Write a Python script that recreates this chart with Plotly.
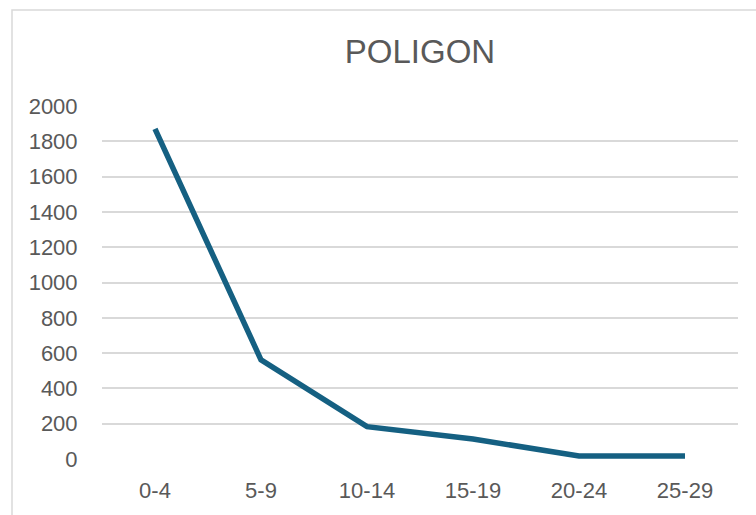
import plotly.graph_objects as go

categories = ["0-4", "5-9", "10-14", "15-19", "20-24", "25-29"]
values = [1870, 562, 183, 113, 17, 17]
y_ticks = list(range(0, 2001, 200))

W, H = 756, 515
L, R, T, B = 102, 18, 106, 56
pw, ph = W - L - R, H - T - B

fig = go.Figure(go.Scatter(
    x=categories, y=values, mode="lines",
    line=dict(color="#156082", width=5.5),
    hoverinfo="x+y",
))

def px_x(p):
    return (p - L) / pw

def px_y(p):
    return 1 - (p - T) / ph

fig.update_layout(
    width=W, height=H,
    margin=dict(l=L, r=R, t=T, b=B, autoexpand=False),
    paper_bgcolor="white", plot_bgcolor="white",
    font=dict(family="Liberation Sans, Arial, sans-serif", color="#595959", size=22),
    title=dict(text="POLIGON", x=0.5, xref="paper", xanchor="center",
               y=1 - 51 / H, yanchor="middle",
               font=dict(size=33, color="#595959")),
    showlegend=False,
    xaxis=dict(range=[-0.5, 5.5], showgrid=False, zeroline=False, showline=False,
               automargin=False,
               ticks="outside", ticklen=12, tickcolor="rgba(0,0,0,0)",
               tickfont=dict(size=22, color="#595959")),
    yaxis=dict(range=[0, 2000], tickvals=y_ticks, showgrid=True, automargin=False,
               gridcolor="#d9d9d9", gridwidth=1.5, zeroline=False, showline=False,
               ticks="outside", ticklen=19, tickcolor="rgba(0,0,0,0)",
               tickfont=dict(size=22, color="#595959")),
    shapes=[dict(type="rect", xref="paper", yref="paper",
                 x0=px_x(12), x1=px_x(770), y0=px_y(530), y1=px_y(10),
                 line=dict(color="#d9d9d9", width=1.5), fillcolor="rgba(0,0,0,0)",
                 layer="below")],
)

fig.write_html("out.html", config={"displayModeBar": False},
               post_script="document.body.style.margin='0';document.body.style.padding='0';")
